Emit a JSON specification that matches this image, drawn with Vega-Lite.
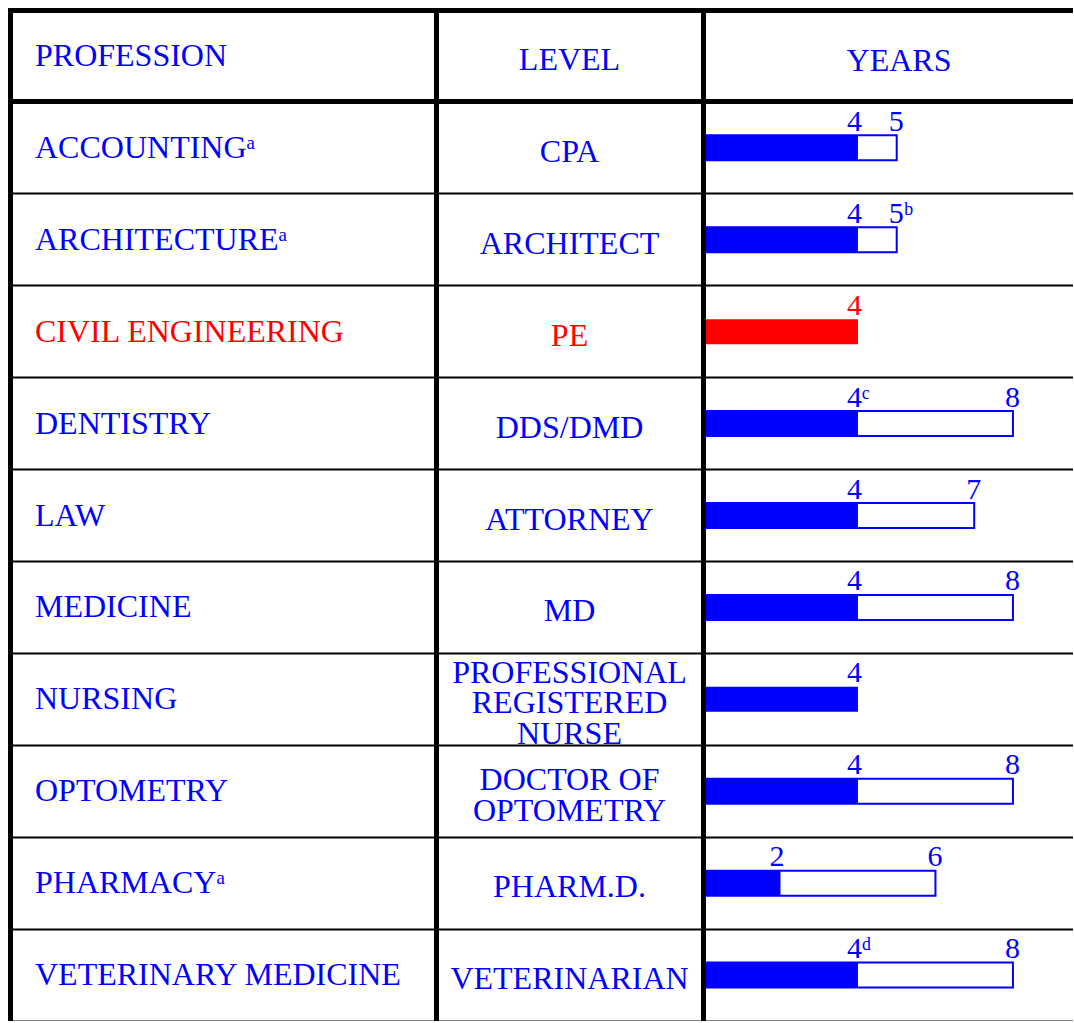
{
  "$schema": "https://vega.github.io/schema/vega-lite/v6.json",
  "padding": {"left": 10, "top": 10, "right": 0, "bottom": 0},
  "background": "white",
  "spacing": 0,
  "bounds": "flush",
  "config": {
    "view": {"stroke": null},
    "text": {"font": "Liberation Serif"},
    "axisX": {"labels": false, "ticks": false, "grid": false, "domain": true, "domainWidth": 2, "domainColor": "black"}
  },
  "datasets": {
    "table": [
      {"key": "header", "profession": "PROFESSION", "years": "YEARS", "tone": "normal"},
      {"key": "accounting", "profession": "ACCOUNTINGᵃ", "lo": 4, "hi": 5, "loLabel": "4", "hiLabel": "5", "tone": "normal"},
      {"key": "architecture", "profession": "ARCHITECTUREᵃ", "lo": 4, "hi": 5, "loLabel": "4", "hiLabel": "5ᵇ", "tone": "normal"},
      {"key": "civil", "profession": "CIVIL ENGINEERING", "lo": 4, "hi": null, "loLabel": "4", "hiLabel": null, "tone": "highlight"},
      {"key": "dentistry", "profession": "DENTISTRY", "lo": 4, "hi": 8, "loLabel": "4ᶜ", "hiLabel": "8", "tone": "normal"},
      {"key": "law", "profession": "LAW", "lo": 4, "hi": 7, "loLabel": "4", "hiLabel": "7", "tone": "normal"},
      {"key": "medicine", "profession": "MEDICINE", "lo": 4, "hi": 8, "loLabel": "4", "hiLabel": "8", "tone": "normal"},
      {"key": "nursing", "profession": "NURSING", "lo": 4, "hi": null, "loLabel": "4", "hiLabel": null, "tone": "normal"},
      {"key": "optometry", "profession": "OPTOMETRY", "lo": 4, "hi": 8, "loLabel": "4", "hiLabel": "8", "tone": "normal"},
      {"key": "pharmacy", "profession": "PHARMACYᵃ", "lo": 2, "hi": 6, "loLabel": "2", "hiLabel": "6", "tone": "normal"},
      {"key": "vet", "profession": "VETERINARY MEDICINE", "lo": 4, "hi": 8, "loLabel": "4ᵈ", "hiLabel": "8", "tone": "normal"}
    ],
    "levels": [
      {"key": "header", "line": "LEVEL", "slot": 2, "tone": "normal"},
      {"key": "accounting", "line": "CPA", "slot": 2, "tone": "normal"},
      {"key": "architecture", "line": "ARCHITECT", "slot": 2, "tone": "normal"},
      {"key": "civil", "line": "PE", "slot": 2, "tone": "highlight"},
      {"key": "dentistry", "line": "DDS/DMD", "slot": 2, "tone": "normal"},
      {"key": "law", "line": "ATTORNEY", "slot": 2, "tone": "normal"},
      {"key": "medicine", "line": "MD", "slot": 2, "tone": "normal"},
      {"key": "nursing", "line": "PROFESSIONAL", "slot": 0, "tone": "normal"},
      {"key": "nursing", "line": "REGISTERED", "slot": 2, "tone": "normal"},
      {"key": "nursing", "line": "NURSE", "slot": 4, "tone": "normal"},
      {"key": "optometry", "line": "DOCTOR OF", "slot": 1, "tone": "normal"},
      {"key": "optometry", "line": "OPTOMETRY", "slot": 3, "tone": "normal"},
      {"key": "pharmacy", "line": "PHARM.D.", "slot": 2, "tone": "normal"},
      {"key": "vet", "line": "VETERINARIAN", "slot": 2, "tone": "normal"}
    ]
  },
  "hconcat": [
    {
      "width": 426,
      "height": 1011,
      "data": {"name": "table"},
      "mark": {"type": "text", "align": "left", "baseline": "middle", "dx": 25, "fontSize": 32},
      "encoding": {
        "y": {"field": "key", "type": "nominal", "sort": null,
          "scale": {"type": "band", "domain": ["header","accounting","architecture","civil","dentistry","law","medicine","nursing","optometry","pharmacy","vet"], "paddingInner": 0, "paddingOuter": 0},
          "axis": {"title": null, "labels": false, "ticks": false, "domain": true, "domainWidth": 5, "domainColor": "black", "domainCap": "square", "grid": true, "gridColor": "black", "gridOpacity": 1,
            "gridWidth": {"condition": {"test": "datum.value === 'header' || datum.value === 'accounting'", "value": 5}, "value": 2},
            "bandPosition": 0, "zindex": 1}},
        "x": {"datum": 0, "type": "quantitative", "scale": {"domain": [0, 1], "nice": false}, "axis": {"title": null}},
        "text": {"field": "profession"},
        "color": {"field": "tone", "type": "nominal", "scale": {"domain": ["normal", "highlight"], "range": ["#0000FF", "#FF0000"]}, "legend": null}
      }
    },
    {
      "width": 267,
      "height": 1011,
      "data": {"name": "levels"},
      "mark": {"type": "text", "align": "center", "baseline": "middle", "dy": 4, "fontSize": 32},
      "encoding": {
        "y": {"field": "key", "type": "nominal", "sort": null,
          "scale": {"type": "band", "domain": ["header","accounting","architecture","civil","dentistry","law","medicine","nursing","optometry","pharmacy","vet"], "paddingInner": 0, "paddingOuter": 0},
          "axis": {"title": null, "labels": false, "ticks": false, "domain": true, "domainWidth": 5, "domainColor": "black", "domainCap": "square", "grid": true, "gridColor": "black", "gridOpacity": 1,
            "gridWidth": {"condition": {"test": "datum.value === 'header' || datum.value === 'accounting'", "value": 5}, "value": 2},
            "bandPosition": 0, "zindex": 1}},
        "yOffset": {"field": "slot", "type": "nominal", "scale": {"domain": [-1, 0, 1, 2, 3, 4, 5], "paddingInner": 0, "paddingOuter": 0}},
        "x": {"datum": 0.5, "type": "quantitative", "scale": {"domain": [0, 1], "nice": false}, "axis": {"title": null}},
        "text": {"field": "line"},
        "color": {"field": "tone", "type": "nominal", "scale": {"domain": ["normal", "highlight"], "range": ["#0000FF", "#FF0000"]}, "legend": null}
      }
    },
    {
      "width": 370,
      "height": 1011,
      "data": {"name": "table"},
      "encoding": {
        "y": {"field": "key", "type": "nominal", "sort": null,
          "scale": {"type": "band", "domain": ["header","accounting","architecture","civil","dentistry","law","medicine","nursing","optometry","pharmacy","vet"], "paddingInner": 0, "paddingOuter": 0},
          "axis": {"title": null, "labels": false, "ticks": false, "domain": true, "domainWidth": 5, "domainColor": "black", "domainCap": "square", "grid": true, "gridColor": "black", "gridOpacity": 1,
            "gridWidth": {"condition": {"test": "datum.value === 'header' || datum.value === 'accounting'", "value": 5}, "value": 2},
            "bandPosition": 0, "zindex": 1}}
      },
      "resolve": {"scale": {"x": "independent"}, "axis": {"x": "independent"}},
      "layer": [
        {
          "layer": [
            {
              "transform": [{"filter": "isValid(datum.hi)"}],
              "mark": {"type": "bar", "size": 25, "fill": "white", "stroke": "#0000FF", "strokeWidth": 2},
              "encoding": {
                "x": {"field": "hi", "type": "quantitative", "scale": {"domain": [0, 9.55], "nice": false}, "axis": {"title": null}}
              }
            },
            {
              "transform": [{"filter": "isValid(datum.lo)"}],
              "mark": {"type": "bar", "size": 25},
              "encoding": {
                "x": {"field": "lo", "type": "quantitative"},
                "color": {"field": "tone", "type": "nominal", "scale": {"domain": ["normal", "highlight"], "range": ["#0000FF", "#FF0000"]}, "legend": null}
              }
            },
            {
              "transform": [{"filter": "isValid(datum.lo)"}],
              "mark": {"type": "text", "align": "left", "baseline": "alphabetic", "dx": -11, "dy": -17, "fontSize": 30},
              "encoding": {
                "x": {"field": "lo", "type": "quantitative"},
                "text": {"field": "loLabel"},
                "color": {"field": "tone", "type": "nominal", "scale": {"domain": ["normal", "highlight"], "range": ["#0000FF", "#FF0000"]}, "legend": null}
              }
            },
            {
              "transform": [{"filter": "isValid(datum.hi)"}],
              "mark": {"type": "text", "align": "left", "baseline": "alphabetic", "dx": -8, "dy": -17, "fontSize": 30, "color": "#0000FF"},
              "encoding": {
                "x": {"field": "hi", "type": "quantitative"},
                "text": {"field": "hiLabel"}
              }
            }
          ]
        },
        {
          "transform": [{"filter": "datum.key === 'header'"}],
          "mark": {"type": "text", "align": "center", "baseline": "middle", "dx": 11, "dy": 5, "fontSize": 32, "color": "#0000FF"},
          "encoding": {
            "x": {"datum": 0.5, "type": "quantitative", "scale": {"domain": [0, 1], "nice": false}, "axis": null},
            "text": {"field": "years"}
          }
        }
      ]
    }
  ]
}
